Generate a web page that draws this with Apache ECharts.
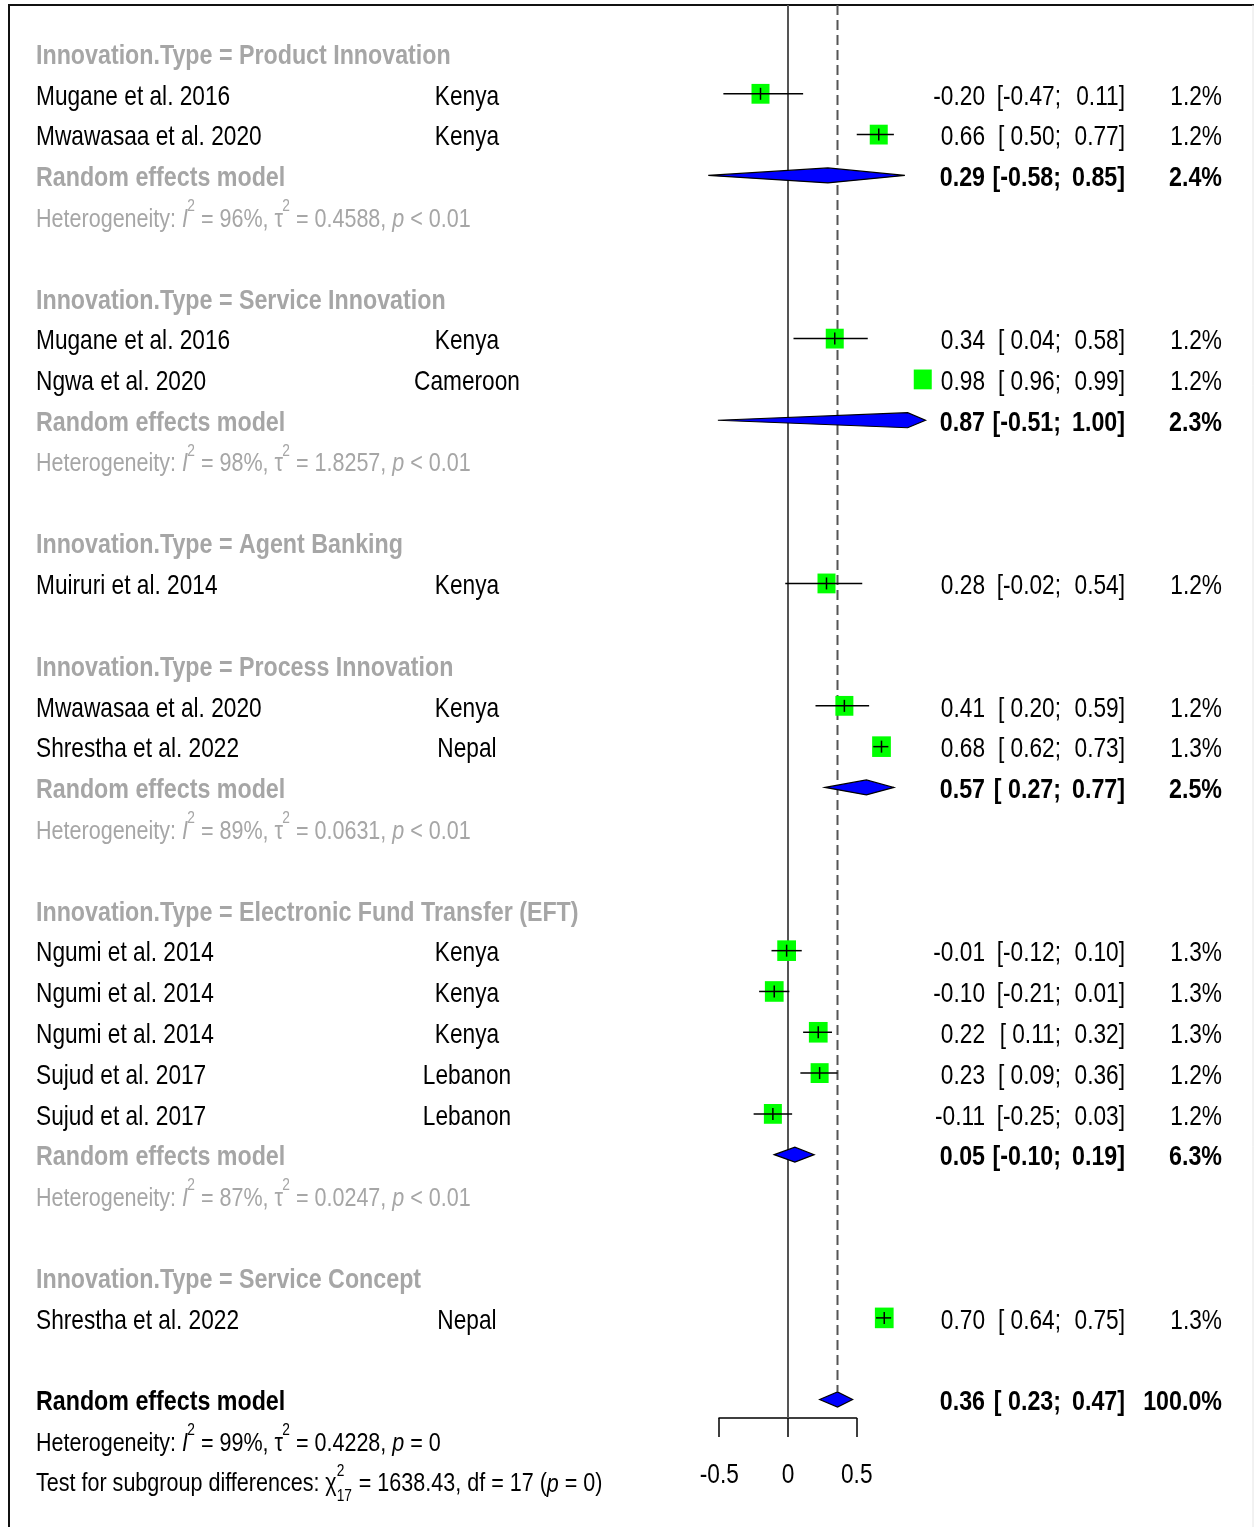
<!DOCTYPE html>
<html>
<head>
<meta charset="utf-8">
<script src="https://cdn.jsdelivr.net/npm/echarts@6/dist/echarts.min.js"></script>
<style>
  html, body { margin: 0; padding: 0; background: #fff; }
  #chart { width: 1254px; height: 1527px; }
</style>
</head>
<body>
<div id="chart"></div>
<script>
// ---- values ----
var groupNames = ['Product Innovation', 'Service Innovation', 'Agent Banking',
  'Process Innovation', 'Electronic Fund Transfer (EFT)', 'Service Concept'];

var studyNames = ['Mugane et al. 2016', 'Mwawasaa et al. 2020', 'Mugane et al. 2016', 'Ngwa et al. 2020',
  'Muiruri et al. 2014', 'Mwawasaa et al. 2020', 'Shrestha et al. 2022', 'Ngumi et al. 2014',
  'Ngumi et al. 2014', 'Ngumi et al. 2014', 'Sujud et al. 2017', 'Sujud et al. 2017', 'Shrestha et al. 2022'];
var countries = ['Kenya', 'Kenya', 'Kenya', 'Cameroon', 'Kenya', 'Kenya', 'Nepal',
  'Kenya', 'Kenya', 'Kenya', 'Lebanon', 'Lebanon', 'Nepal'];
var studyGroup = [0, 0, 1, 1, 2, 3, 3, 4, 4, 4, 4, 4, 5];
var studyTE = [-0.20, 0.66, 0.34, 0.98, 0.28, 0.41, 0.68, -0.01, -0.10, 0.22, 0.23, -0.11, 0.70];
var studyLower = [-0.47, 0.50, 0.04, 0.96, -0.02, 0.20, 0.62, -0.12, -0.21, 0.11, 0.09, -0.25, 0.64];
var studyUpper = [0.11, 0.77, 0.58, 0.99, 0.54, 0.59, 0.73, 0.10, 0.01, 0.32, 0.36, 0.03, 0.75];
var studyWeight = [1.2, 1.2, 1.2, 1.2, 1.2, 1.2, 1.3, 1.3, 1.3, 1.3, 1.2, 1.2, 1.3];

var groupTE = [0.29, 0.87, null, 0.57, 0.05, null];
var groupLower = [-0.58, -0.51, null, 0.27, -0.10, null];
var groupUpper = [0.85, 1.00, null, 0.77, 0.19, null];
var groupWeight = [2.4, 2.3, null, 2.5, 6.3, null];
var groupI2 = ['96%', '98%', null, '89%', '87%', null];
var groupTau2 = ['0.4588', '1.8257', null, '0.0631', '0.0247', null];
var groupP = ['< 0.01', '< 0.01', null, '< 0.01', '< 0.01', null];

var overallCI = [0.36, 0.23, 0.47];   // estimate, lower, upper
var overallWeight = 100.0;
var overallHet = ['99%', '0.4228', '= 0'];
var subgroupTest = ['1638.43', '17', '= 0'];
var xTicks = [-0.5, 0, 0.5];

// ---- look ----
var FONT = 'Liberation Sans';
var FS = 28, HET_FS = 26.6, SUP_FS = 17, SX = 0.81, SX_BOLD = 0.83;
var GRAY = '#a6a6a6';
var ROW_MIN = -1.25, ROW_MAX = 33.38, LABEL_ROW = 34.78;

var ctx = document.createElement('canvas').getContext('2d');
function textW(t, size, bold, italic) {
  ctx.font = (italic ? 'italic ' : '') + (bold ? 'bold ' : '') + size + 'px "' + FONT + '"';
  return ctx.measureText(t).width;
}
function piece(t, x, y, size, bold, italic, color) {
  return {
    type: 'text', x: x, y: y,
    style: {
      text: t, fontSize: size, fontFamily: FONT, fontWeight: bold ? 'bold' : 'normal',
      fontStyle: italic ? 'italic' : 'normal', fill: color, align: 'left', verticalAlign: 'middle'
    }
  };
}
// runs of text with italics, superscripts and stacked sup/sub, squeezed like the R device font
function runsEl(runs, x, y, align, color, bold, size) {
  var kids = [], cx = 0;
  runs.forEach(function (r) {
    if (r.sup != null) {
      var w1 = textW(r.sup, SUP_FS, bold, false), w2 = textW(r.sub, SUP_FS, bold, false);
      kids.push(piece(r.sup, cx, -13, SUP_FS, bold, false, color));
      kids.push(piece(r.sub, cx, 12, SUP_FS, bold, false, color));
      cx += Math.max(w1, w2) + 1;
    } else if (r.s) {
      kids.push(piece(r.t, cx - 1, -13, SUP_FS, bold, false, color));
      cx += textW(r.t, SUP_FS, bold, false) - 1;
    } else {
      kids.push(piece(r.t, cx, 0, size, bold, r.i, color));
      cx += textW(r.t, size, bold, r.i);
    }
  });
  var shift = align === 'right' ? -cx : (align === 'center' ? -cx / 2 : 0);
  kids.forEach(function (k) { k.x += shift; });
  return { type: 'group', x: x, y: y, scaleX: bold ? SX_BOLD : SX, children: kids };
}

function f2(v) { return v.toFixed(2); }
function ciLo(v) { return '[' + (v < 0 ? '' : ' ') + f2(v) + ';'; }
function hetRuns(i2, tau2, p) {
  return [{ t: 'Heterogeneity: ' }, { t: 'I', i: 1 }, { t: '2', s: 1 }, { t: ' = ' + i2 + ', ' },
    { t: '\u03c4' }, { t: '2', s: 1 }, { t: ' = ' + tau2 + ', ' }, { t: 'p', i: 1 }, { t: ' ' + p }];
}

// ---- row layout ----
var texts = [];
function addValues(row, est, lo, hi, w, bold) {
  texts.push({ row: row, x: 985, align: 'right', runs: [{ t: f2(est) }], color: '#000', bold: bold });
  texts.push({ row: row, x: 1061, align: 'right', runs: [{ t: ciLo(lo) }], color: '#000', bold: bold });
  texts.push({ row: row, x: 1125, align: 'right', runs: [{ t: f2(hi) + ']' }], color: '#000', bold: bold });
  texts.push({ row: row, x: 1222, align: 'right', runs: [{ t: w.toFixed(1) + '%' }], color: '#000', bold: bold });
}
var studyRow = [], diamonds = [];
var r = 0;
groupNames.forEach(function (g, gi) {
  texts.push({ row: r, x: 36, align: 'left', runs: [{ t: 'Innovation.Type = ' + g }], color: GRAY, bold: true });
  r++;
  studyNames.forEach(function (s, i) {
    if (studyGroup[i] !== gi) return;
    studyRow[i] = r;
    texts.push({ row: r, x: 36, align: 'left', runs: [{ t: s }], color: '#000' });
    texts.push({ row: r, x: 467, align: 'center', runs: [{ t: countries[i] }], color: '#000' });
    addValues(r, studyTE[i], studyLower[i], studyUpper[i], studyWeight[i], false);
    r++;
  });
  if (groupTE[gi] != null) {
    texts.push({ row: r, x: 36, align: 'left', runs: [{ t: 'Random effects model' }], color: GRAY, bold: true });
    addValues(r, groupTE[gi], groupLower[gi], groupUpper[gi], groupWeight[gi], true);
    diamonds.push([groupTE[gi], groupLower[gi], groupUpper[gi], r]);
    r++;
    texts.push({ row: r, x: 36, align: 'left', size: HET_FS, runs: hetRuns(groupI2[gi], groupTau2[gi], groupP[gi]), color: GRAY });
    r++;
  }
  r++;
});
var overallRow = r;
texts.push({ row: r, x: 36, align: 'left', runs: [{ t: 'Random effects model' }], color: '#000', bold: true });
addValues(r, overallCI[0], overallCI[1], overallCI[2], overallWeight, true);
diamonds.push([overallCI[0], overallCI[1], overallCI[2], r]);
r++;
texts.push({ row: r, x: 36, align: 'left', size: HET_FS, runs: hetRuns(overallHet[0], overallHet[1], overallHet[2]), color: '#000' });
r++;
texts.push({ row: r, x: 36, align: 'left', size: HET_FS, color: '#000', runs: [
  { t: 'Test for subgroup differences: ' }, { t: '\u03c7' }, { sup: '2', sub: subgroupTest[1] },
  { t: ' = ' + subgroupTest[0] + ', df = ' + subgroupTest[1] + ' (' }, { t: 'p', i: 1 }, { t: ' ' + subgroupTest[2] + ')' }] });
xTicks.forEach(function (v) {
  texts.push({ row: LABEL_ROW, xVal: v, align: 'center', runs: [{ t: String(v) }], color: '#000' });
});

var MY = -3; // markers sit slightly above text middle
var chart = echarts.init(document.getElementById('chart'));
chart.setOption({
  animation: false,
  backgroundColor: '#fff',
  grid: [
    { left: 650.5, top: 5, width: 302.5, height: 1413, outerBoundsMode: 'none' },
    { left: 719, top: 1417, width: 137.5, height: 1, outerBoundsMode: 'none' }
  ],
  xAxis: [
    { type: 'value', gridIndex: 0, min: -1, max: 1.2, show: false },
    { type: 'value', gridIndex: 1, min: -0.5, max: 0.5, interval: 0.5,
      axisLine: { show: true, lineStyle: { color: '#000', width: 1.5 } },
      axisTick: { show: true, length: 19, lineStyle: { color: '#000', width: 1.5 } },
      axisLabel: { show: false }, splitLine: { show: false } }
  ],
  yAxis: [
    { type: 'value', gridIndex: 0, min: ROW_MIN, max: ROW_MAX, inverse: true, show: false },
    { type: 'value', gridIndex: 1, show: false }
  ],
  graphic: [
    { type: 'line', shape: { x1: 8, y1: 5, x2: 1254, y2: 5 }, style: { stroke: '#111', lineWidth: 2 } },
    { type: 'line', shape: { x1: 9, y1: 5, x2: 9, y2: 1527 }, style: { stroke: '#111', lineWidth: 2 } },
    { type: 'line', shape: { x1: 1253, y1: 5, x2: 1253, y2: 1527 }, style: { stroke: '#e4e4e4', lineWidth: 1 } }
  ],
  series: [
    { // reference lines: no effect and overall estimate
      type: 'custom', silent: true, clip: false,
      data: [[0, 0], [overallCI[0], 1]],
      renderItem: function (params, api) {
        var x = api.coord([api.value(0), 0])[0];
        var top = api.coord([0, ROW_MIN])[1];
        var dashed = api.value(1) === 1;
        var bottom = dashed ? api.coord([0, overallRow])[1] + MY - 8 : api.coord([0, ROW_MAX])[1];
        return { type: 'line', shape: { x1: x, y1: top, x2: x, y2: bottom },
          style: { stroke: '#555', lineWidth: 2, lineDash: dashed ? [10, 5] : null } };
      }
    },
    { // study squares and confidence intervals
      type: 'custom', silent: true, clip: false,
      data: studyTE.map(function (v, i) { return [v, studyLower[i], studyUpper[i], studyRow[i], studyWeight[i]]; }),
      renderItem: function (params, api) {
        var row = api.value(3);
        var c = api.coord([api.value(0), row]);
        var lo = api.coord([api.value(1), row]), hi = api.coord([api.value(2), row]);
        var y = c[1] + MY;
        var sw = 18 * Math.sqrt(api.value(4) / 1.2), sh = sw * 1.1;
        var kids = [
          { type: 'rect', shape: { x: c[0] - sw / 2, y: y - sh / 2, width: sw, height: sh }, style: { fill: '#00ff00' } }
        ];
        if (hi[0] - lo[0] > 8) {
          kids.push({ type: 'line', shape: { x1: lo[0], y1: y, x2: hi[0], y2: y }, style: { stroke: '#000', lineWidth: 1.5 } });
          kids.push({ type: 'line', shape: { x1: c[0], y1: y - 6, x2: c[0], y2: y + 6 }, style: { stroke: '#000', lineWidth: 1.5 } });
        }
        return { type: 'group', children: kids };
      }
    },
    { // pooled diamonds
      type: 'custom', silent: true, clip: false,
      data: diamonds,
      renderItem: function (params, api) {
        var row = api.value(3);
        var c = api.coord([api.value(0), row]);
        var lo = api.coord([api.value(1), row]), hi = api.coord([api.value(2), row]);
        var y = c[1] + MY;
        return { type: 'polygon',
          shape: { points: [[lo[0], y], [c[0], y - 7.5], [hi[0], y], [c[0], y + 7.5]] },
          style: { fill: '#0000ff', stroke: '#000', lineWidth: 1.2 } };
      }
    },
    { // all text columns and tick labels
      type: 'custom', silent: true, clip: false,
      data: texts.map(function (t) { return [0, t.row]; }),
      renderItem: function (params, api) {
        var t = texts[params.dataIndex];
        var y = api.coord([0, t.row])[1];
        var x = t.xVal != null ? api.coord([t.xVal, t.row])[0] : t.x;
        return runsEl(t.runs, x, y, t.align, t.color, t.bold, t.size || FS);
      }
    }
  ]
});
</script>
</body>
</html>
